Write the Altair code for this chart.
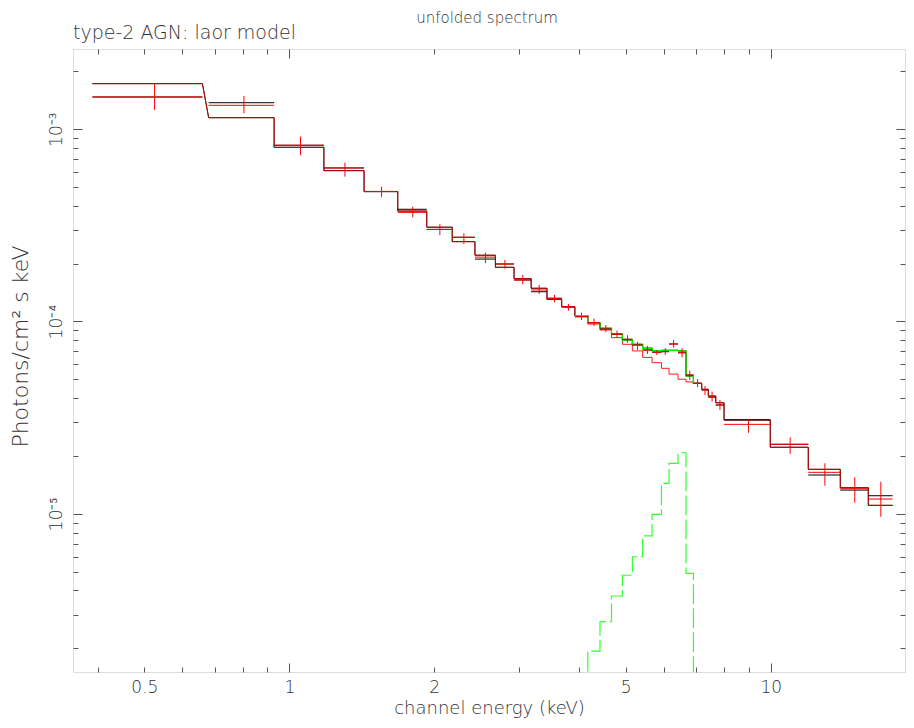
import altair as alt
import pandas as pd

# ---------------- data ----------------
bin_lo = [0.39, 0.68, 0.93, 1.18, 1.43, 1.68, 1.93, 2.18, 2.43, 2.68, 2.93, 3.18,
          3.43, 3.68, 3.92, 4.17, 4.42, 4.67, 4.92, 5.16, 5.42, 5.67, 5.93, 6.15,
          6.42, 6.67, 6.91, 7.19, 7.42, 7.69, 8.0, 9.98, 11.97, 13.95, 15.95]
bin_hi = [0.66, 0.93, 1.18, 1.43, 1.68, 1.93, 2.18, 2.43, 2.68, 2.93, 3.18, 3.43,
          3.68, 3.92, 4.17, 4.42, 4.67, 4.92, 5.16, 5.42, 5.67, 5.93, 6.15, 6.42,
          6.67, 6.91, 7.19, 7.42, 7.69, 8.0, 9.98, 11.97, 13.95, 15.95, 17.92]

model_total = [1.722e-3, 1.146e-3, 8.04e-4, 6.08e-4, 4.73e-4, 3.75e-4, 3.09e-4, 2.60e-4,
               2.21e-4, 1.913e-4, 1.669e-4, 1.488e-4, 1.301e-4, 1.19e-4, 1.072e-4, 9.86e-5,
               9.22e-5, 8.61e-5, 8.01e-5, 7.61e-5, 7.26e-5, 7.05e-5, 7.08e-5, 7.08e-5,
               7.03e-5, 5.21e-5, 4.77e-5, 4.44e-5, 4.10e-5, 3.78e-5, 3.08e-5, 2.22e-5,
               1.705e-5, 1.368e-5, 1.108e-5]

red_flux = [1.468e-3, 1.329e-3, 8.24e-4, 6.28e-4, 4.74e-4, 3.69e-4, 3.01e-4, 2.74e-4,
            2.16e-4, 1.99e-4, 1.643e-4, 1.458e-4, 1.320e-4, 1.194e-4, 1.059e-4, 9.86e-5,
            9.14e-5, 8.58e-5, 8.08e-5, 7.55e-5, 7.11e-5, 6.92e-5, 6.97e-5, 7.64e-5,
            6.88e-5, 5.27e-5, 4.77e-5, 4.41e-5, 4.04e-5, 3.68e-5, 2.92e-5, 2.30e-5,
            1.645e-5, 1.352e-5, 1.195e-5]
red_err_lo = [1.257e-3, 1.208e-3, 7.31e-4, 5.66e-4, 4.42e-4, 3.48e-4, 2.81e-4, 2.53e-4,
              2.01e-4, 1.88e-4, 1.561e-4, 1.390e-4, 1.258e-4, 1.138e-4, 1.018e-4, 9.48e-5,
              8.79e-5, 8.24e-5, 7.76e-5, 7.11e-5, 6.78e-5, 6.70e-5, 6.70e-5, 7.31e-5,
              6.51e-5, 4.97e-5, 4.55e-5, 4.15e-5, 3.83e-5, 3.47e-5, 2.64e-5, 2.05e-5,
              1.401e-5, 1.143e-5, 9.67e-6]
red_err_hi = [1.722e-3, 1.486e-3, 9.13e-4, 6.69e-4, 5.02e-4, 3.95e-4, 3.20e-4, 2.87e-4,
              2.28e-4, 2.09e-4, 1.744e-4, 1.548e-4, 1.373e-4, 1.233e-4, 1.111e-4, 1.036e-4,
              9.59e-5, 8.96e-5, 8.48e-5, 7.85e-5, 7.46e-5, 7.11e-5, 7.26e-5, 8.01e-5,
              7.26e-5, 5.55e-5, 5.02e-5, 4.62e-5, 4.32e-5, 3.91e-5, 3.10e-5, 2.50e-5,
              1.832e-5, 1.550e-5, 1.470e-5]
black_flux = [1.468e-3, 1.371e-3, 8.24e-4, 6.28e-4, 4.74e-4, 3.83e-4, 3.01e-4, 2.74e-4,
              2.11e-4, 1.99e-4, 1.643e-4, 1.428e-4, 1.320e-4, 1.194e-4, 1.059e-4, 9.86e-5,
              9.14e-5, 8.58e-5, 8.08e-5, 7.55e-5, 7.11e-5, 6.92e-5, 6.97e-5, 7.64e-5,
              6.88e-5, 5.27e-5, 4.77e-5, 4.41e-5, 4.04e-5, 3.68e-5, 3.08e-5, 2.30e-5,
              1.593e-5, 1.33e-5, 1.243e-5]

# bins 15..27 (region of the iron line)
line_lo = [3.92, 4.17, 4.42, 4.67, 4.92, 5.16, 5.42, 5.67, 5.93, 6.15, 6.42, 6.67, 6.91]
line_hi = [4.17, 4.42, 4.67, 4.92, 5.16, 5.42, 5.67, 5.93, 6.15, 6.42, 6.67, 6.91, 7.19]
line_total = [1.072e-4, 9.86e-5, 9.22e-5, 8.61e-5, 8.01e-5, 7.61e-5, 7.26e-5, 7.05e-5,
              7.08e-5, 7.08e-5, 7.03e-5, 5.21e-5, 4.77e-5]
continuum = [1.072e-4, 9.70e-5, 9.03e-5, 8.24e-5, 7.61e-5, 7.03e-5, 6.51e-5, 6.11e-5,
             5.71e-5, 5.33e-5, 5.01e-5, 4.85e-5, 4.77e-5]
laor_line = [1.0e-7, 1.938e-6, 2.753e-6, 3.744e-6, 4.80e-6, 5.99e-6, 7.68e-6, 9.95e-6,
             1.442e-5, 1.832e-5, 2.079e-5, 4.91e-6, 1.0e-7]

x_label_vals = [0.5, 1, 2, 5, 10]
x_major = [1, 10]
x_minor = [0.4, 0.5, 0.6, 0.7, 0.8, 0.9, 2, 3, 4, 5, 6, 7, 8, 9]
y_major = [1e-5, 1e-4, 1e-3]
y_minor = [2e-6, 3e-6, 4e-6, 5e-6, 6e-6, 7e-6, 8e-6, 9e-6,
           2e-5, 3e-5, 4e-5, 5e-5, 6e-5, 7e-5, 8e-5, 9e-5,
           2e-4, 3e-4, 4e-4, 5e-4, 6e-4, 7e-4, 8e-4, 9e-4, 2e-3]

# ---------------- tables ----------------
def steps(lo, hi, val):
    rows = []
    for i, (a, b, v) in enumerate(zip(lo, hi, val)):
        rows.append({"e": a, "f": v, "k": 2 * i})
        rows.append({"e": b, "f": v, "k": 2 * i + 1})
    return pd.DataFrame(rows)

model_df = steps(bin_lo, bin_hi, model_total)
green_df = steps(line_lo, line_hi, line_total)
cont_df = steps(line_lo, line_hi, continuum)
laor_df = steps(line_lo, line_hi, laor_line)
pts = pd.DataFrame({"lo": bin_lo, "hi": bin_hi, "f": red_flux, "flo": red_err_lo,
                    "fhi": red_err_hi, "fb": black_flux})
dummy = pd.DataFrame({"e": [1.0], "f": [1e-4]})

FONT = "DejaVu Sans"
TXT = "#333333"
TICK = "#555555"
FW = 300

xs = alt.Scale(type="log", domain=[0.3554, 19.01], nice=False)
ys = alt.Scale(type="log", domain=[1.508e-6, 2.607e-3], nice=False)


def X(f):
    return alt.X(f"{f}:Q", scale=xs, axis=None)


def Y(f):
    return alt.Y(f"{f}:Q", scale=ys, axis=None)


def step_line(df, color, width=1.0, opacity=1.0, dash=None, clip=False):
    kw = dict(color=color, strokeWidth=width, opacity=opacity, clip=clip)
    if dash:
        kw["strokeDash"] = dash
    return alt.Chart(df).mark_line(**kw).encode(x=X("e"), y=Y("f"), order=alt.Order("k:Q"))


cont_layer = step_line(cont_df, "#ff1a1a", 1.0)
model_black = step_line(model_df, "#000000", 1.0)
model_red = step_line(model_df, "#e00000", 1.0, opacity=0.8)
green_total = step_line(green_df, "#00ee00", 1.3)
laor_layer = step_line(laor_df, "#33ff33", 1.2, dash=[20, 4], clip=True)

black_h = alt.Chart(pts).mark_rule(color="#000000", strokeWidth=1).encode(
    x=X("lo"), x2="hi:Q", y=Y("fb"))
red_h = alt.Chart(pts).mark_rule(color="#ff0000", strokeWidth=1).encode(
    x=X("lo"), x2="hi:Q", y=Y("f"))
red_v = alt.Chart(pts).transform_calculate(ec="(datum.lo + datum.hi) / 2").mark_rule(
    color="#ff0000", strokeWidth=1).encode(x=X("ec"), y=Y("flo"), y2="fhi:Q")


def tick_axis(orient, vals, size):
    return alt.Axis(orient=orient, values=vals, tickSize=size, offset=-size, labels=False,
                    domain=False, grid=False, ticks=True, tickColor=TICK, tickWidth=1,
                    title=None)


def axis_layer(xa, ya):
    return alt.Chart(dummy).mark_point(opacity=0).encode(
        x=alt.X("e:Q", scale=xs, axis=xa), y=alt.Y("f:Q", scale=ys, axis=ya))


ax1 = axis_layer(tick_axis("bottom", x_minor, 5), tick_axis("left", y_minor, 5))
ax2 = axis_layer(tick_axis("bottom", x_major, 9), tick_axis("left", y_major, 9))
ax3 = axis_layer(tick_axis("top", x_minor, 5), tick_axis("right", y_minor, 5))
ax4 = axis_layer(tick_axis("top", x_major, 9), tick_axis("right", y_major, 9))

x_lab = alt.Axis(orient="bottom", values=x_label_vals, format="~g", ticks=False, domain=False,
                 grid=False, labelPadding=7, labelFontSize=17, labelFont=FONT,
                 labelFontWeight=FW, labelColor=TXT, labelFlush=False, labelOverlap=False,
                 title="channel energy (keV)", titleFont=FONT, titleFontSize=18,
                 titleFontWeight=FW, titleColor=TXT, titleY=41, titleBaseline="alphabetic")
y_lab = alt.Axis(orient="left", values=y_major,
                 labelExpr="datum.value > 5e-4 ? '10⁻³' : (datum.value > 5e-5 ? '10⁻⁴' : '10⁻⁵')",
                 ticks=False, domain=False, grid=False, labelAngle=270, labelAlign="center",
                 labelBaseline="alphabetic", labelPadding=12, labelFontSize=17, labelFont=FONT,
                 labelFontWeight=FW, labelColor=TXT, labelFlush=False, labelOverlap=False,
                 title="Photons/cm² s keV", titleFont=FONT, titleFontSize=22,
                 titleFontWeight=FW, titleColor=TXT, titleAngle=270, titleX=-53,
                 titleY=297, titleAlign="center", titleBaseline="middle")
ax5 = axis_layer(x_lab, y_lab)

title_txt = alt.Chart(dummy).mark_text(align="center", baseline="alphabetic", fontSize=15,
                                       font=FONT, fontWeight=FW, color=TXT).encode(
    x=alt.value(414), y=alt.value(-26), text=alt.value("unfolded spectrum"))
sub_txt = alt.Chart(dummy).mark_text(align="left", baseline="middle", fontSize=19, font=FONT,
                                     fontWeight=FW, color=TXT).encode(
    x=alt.value(0), y=alt.value(-16), text=alt.value("type-2 AGN: laor model"))

chart = alt.layer(
    cont_layer, model_black, model_red, green_total, black_h, red_h, red_v, laor_layer,
    ax1, ax2, ax3, ax4, ax5, title_txt, sub_txt
).resolve_axis(x="independent", y="independent").properties(
    width=832, height=623,
    autosize=alt.AutoSizeParams(type="none"),
    padding={"left": 65, "top": 41, "right": 1, "bottom": 46},
).configure_view(stroke="#999999", strokeWidth=1.5).configure(background="white")

chart.save("out.html", embed_options={"renderer": "svg", "actions": False})
